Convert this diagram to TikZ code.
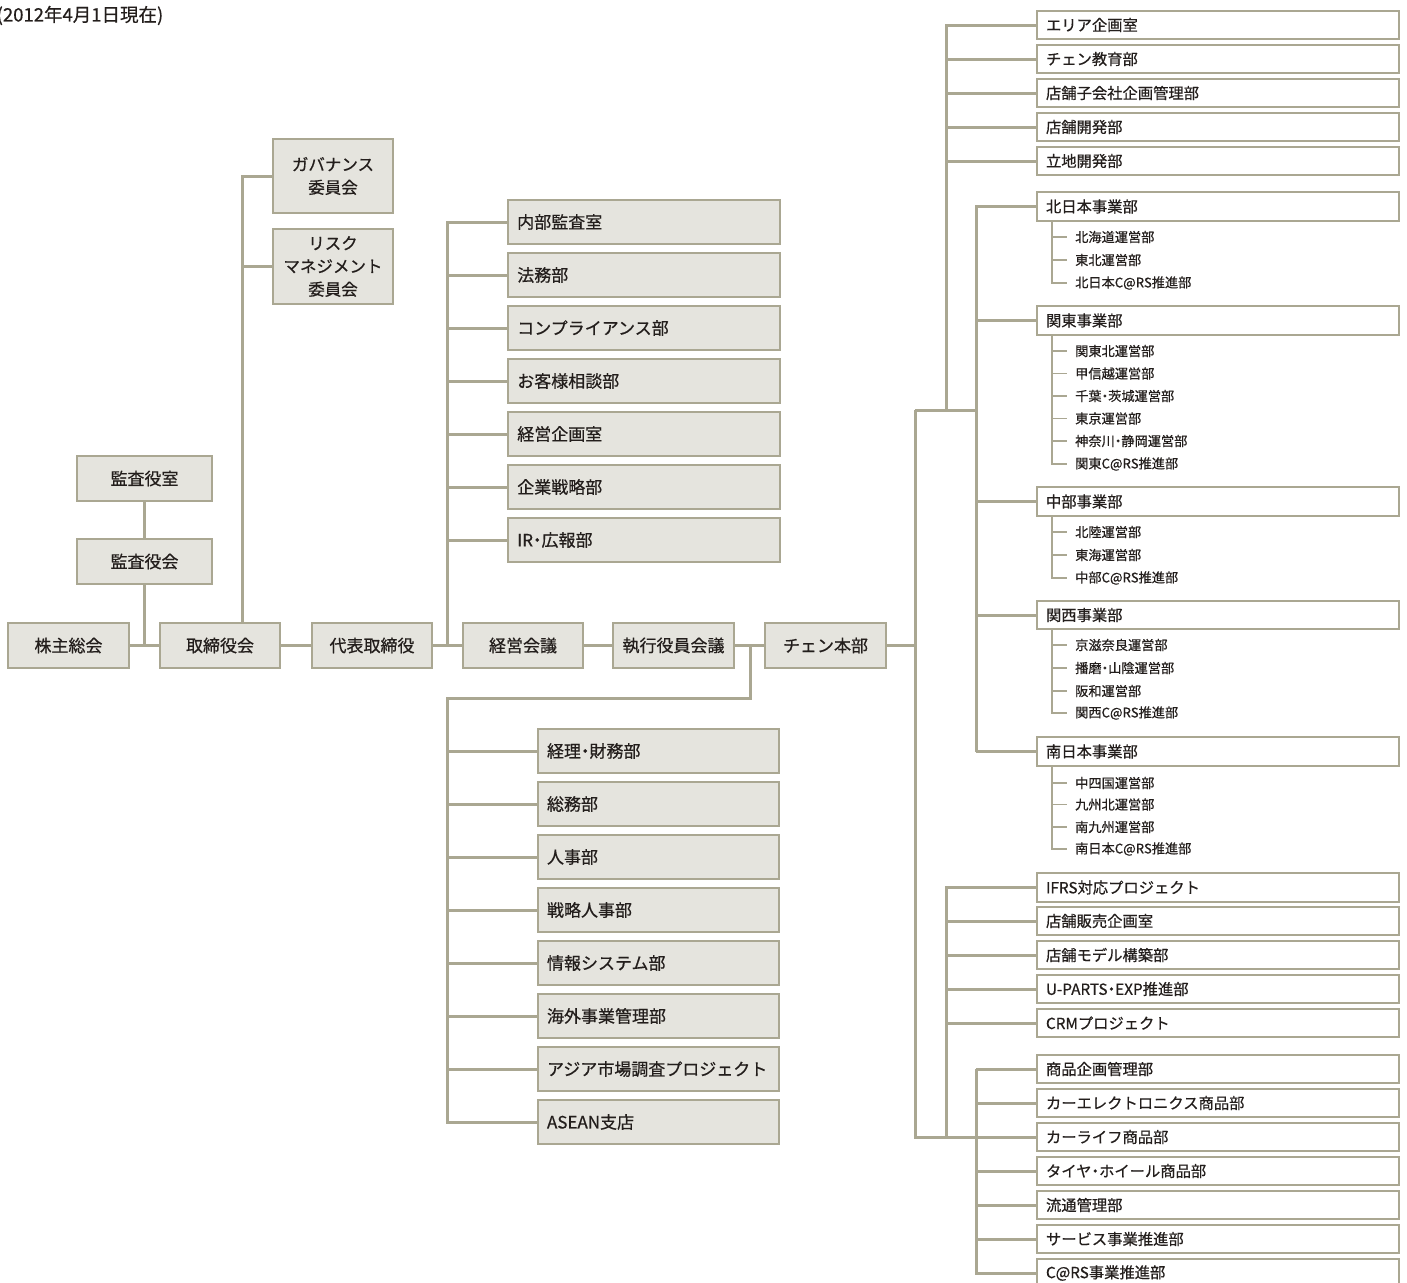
\documentclass[tikz,border=0pt]{standalone}
\usepackage{fontspec}
\setmainfont{Noto Sans CJK JP}[FakeBold=0.6]
\newcommand\md{{\addfontfeature{RawFeature=+palt}・}}
\definecolor{lc}{RGB}{170,167,146}
\definecolor{bf}{RGB}{229,228,222}
\definecolor{tc}{RGB}{35,30,28}
\begin{document}
\begin{tikzpicture}[x=1pt,y=-1pt,
  conn/.style={draw=lc, line width=3pt},
  subl/.style={draw=lc, line width=1.3pt, shorten >=8pt},
  cbox/.style={draw=lc, fill=bf, line width=1.8pt, inner sep=0pt, align=center, text=tc,
    font=\fontsize{17}{23}\selectfont},
  gbox/.style={draw=lc, fill=bf, line width=1.8pt, inner xsep=9pt, inner ysep=0pt,
    minimum height=44pt, align=left, text=tc, font=\fontsize{17}{21}\selectfont},
  wbox/.style={draw=lc, fill=white, line width=1.8pt, inner xsep=9pt, inner ysep=0pt,
    minimum height=28.5pt, text width=344pt, align=left, text=tc, font=\fontsize{15.3}{18}\selectfont},
  subn/.style={anchor=west, inner sep=0pt, text=tc, font=\fontsize{13.2}{15}\selectfont}
]
\useasboundingbox (0,0) rectangle (1407,1282);
\node[anchor=west, inner sep=0pt, text=tc, font=\fontsize{18.5}{21}\selectfont] (title) at (-3.5,15.5) {(2012年4月1日現在)};

% left
\node[cbox, minimum width=135pt, minimum height=45pt] (ka1) at (144.5,478.5) {監査役室};
\node[cbox, minimum width=135pt, minimum height=45pt] (ka2) at (144.5,561.5) {監査役会};
\node[cbox, minimum width=121pt, minimum height=45pt] (kabu) at (68.5,645.5) {株主総会};
\node[cbox, minimum width=120pt, minimum height=45pt] (tori) at (220,645.5) {取締役会};
\node[cbox, minimum width=120pt, minimum height=45pt] (dai) at (372,645.5) {代表取締役};
\node[cbox, minimum width=120pt, minimum height=45pt] (kei) at (523,645.5) {経営会議};
\node[cbox, minimum width=121pt, minimum height=45pt] (shi) at (673.5,645.5) {執行役員会議};
\node[cbox, minimum width=121pt, minimum height=45pt] (hon) at (825.5,645.5) {チェン本部};
\node[cbox, minimum width=120pt, minimum height=74pt, font=\fontsize{16.5}{23}\selectfont] (gov) at (333,176) {ガバナンス\\委員会};
\node[cbox, minimum width=120pt, minimum height=75pt, font=\fontsize{16.5}{23}\selectfont] (risk) at (333,266.5) {リスク\\マネジメント\\委員会};

% top middle group
\foreach \n/\y/\t in {g1/222/内部監査室, g2/275/法務部, g3/328/コンプライアンス部, g4/381/お客様相談部,
  g5/434/経営企画室, g6/487/企業戦略部, g7/540/IR\md 広報部}
  {\node[gbox, text width=253.5pt] (\n) at (644,\y) {\t};}
% bottom middle group
\foreach \n/\y/\t in {h1/751/経理\md 財務部, h2/804/総務部, h3/857/人事部, h4/910/戦略人事部,
  h5/963/情報システム部, h6/1016/海外事業管理部, h7/1069/アジア市場調査プロジェクト, h8/1122/ASEAN支店}
  {\node[gbox, text width=223pt] (\n) at (658.5,\y) {\t};}

% right column
\foreach \n/\y/\t in {r1/25/エリア企画室, r2/59/チェン教育部, r3/93/店舗子会社企画管理部, r4/127/店舗開発部, r5/161/立地開発部,
  d1/206.5/北日本事業部, d2/320.5/関東事業部, d3/501.5/中部事業部, d4/615/関西事業部, d5/751.5/南日本事業部,
  p1/887.5/IFRS対応プロジェクト, p2/921/店舗販売企画室, p3/955/店舗モデル構築部, p4/989/U-PARTS\md EXP推進部, p5/1023/CRMプロジェクト,
  m1/1069/商品企画管理部, m2/1103/カーエレクトロニクス商品部, m3/1137/カーライフ商品部, m4/1171/タイヤ\md ホイール商品部,
  m5/1205/流通管理部, m6/1239/サービス事業推進部, m7/1273/C@RS事業推進部}
  {\node[wbox] (\n) at (1218,\y) {\t};}

% sub items
\foreach \n/\y/\t in {a1/237/北海道運営部, a2/260/東北運営部, a3/283/北日本C@RS推進部,
  b1/351/関東北運営部, b2/373.5/甲信越運営部, b3/396/千葉\md 茨城運営部, b4/418.5/東京運営部, b5/441/神奈川\md 静岡運営部, b6/464/関東C@RS推進部,
  c1/532/北陸運営部, c2/555/東海運営部, c3/578/中部C@RS推進部,
  e1/645/京滋奈良運営部, e2/668/播磨\md 山陰運営部, e3/691/阪和運営部, e4/713/関西C@RS推進部,
  f1/783/中四国運営部, f2/804.5/九州北運営部, f3/827/南九州運営部, f4/849/南日本C@RS推進部}
  {\node[subn] (\n) at (1075,\y) {\t};}

% coordinates for trunks
\coordinate (sx) at (1052,0);
\coordinate (gx) at (242,0);
\coordinate (ax) at (447,0);
\coordinate (q) at (750,698);
\coordinate (tx) at (915,0);
\coordinate (ux) at (946,0);
\coordinate (vx) at (976,0);
\coordinate (t1) at (915,410);

% left connectors
\draw[conn] (ka1.south) -- (ka2.north);
\draw[conn] (ka2.south) -- (ka2.south |- kabu.east);
\draw[conn] (kabu.east) -- (tori.west);
\draw[conn] (tori.east) -- (dai.west);
\draw[conn] (dai.east) -- (kei.west);
\draw[conn] (kei.east) -- (shi.west);
\draw[conn] (shi.east) -- (hon.west);
\draw[conn] (gx |- tori.north) |- (gov.west);
\draw[conn] (gx |- risk.west) -- (risk.west);

% top group
\draw[conn] (ax |- dai.east) |- (g1.west);
\foreach \n in {g2,g3,g4,g5,g6,g7} {\draw[conn] (ax |- \n.west) -- (\n.west);}
% bottom group
\draw[conn] (q |- shi.east) -- (q) -- (ax |- q) |- (h8.west);
\foreach \n in {h1,h2,h3,h4,h5,h6,h7} {\draw[conn] (ax |- \n.west) -- (\n.west);}

% right trunk
\draw[conn] (hon.east) -- (tx |- hon.east);
\draw[conn] (t1) -- (tx |- m3.west) -- (m3.west);
\draw[conn] (t1) -- (vx |- t1);
\draw[conn] (ux |- t1) |- (r1.west);
\foreach \n in {r2,r3,r4,r5} {\draw[conn] (ux |- \n.west) -- (\n.west);}
\draw[conn] (vx |- d5.west) |- (d1.west);
\foreach \n in {d2,d3,d4,d5} {\draw[conn] (vx |- \n.west) -- (\n.west);}
\draw[conn] (ux |- m3.west) |- (p1.west);
\foreach \n in {p2,p3,p4,p5} {\draw[conn] (ux |- \n.west) -- (\n.west);}
\draw[conn] (vx |- m1.west) -- (vx |- m7.west) -- (m7.west);
\draw[conn] (vx |- m1.west) -- (m1.west);
\foreach \n in {m2,m4,m5,m6} {\draw[conn] (vx |- \n.west) -- (\n.west);}

% sub trees
\draw[subl] (sx |- d1.south) |- (a3.west);
\foreach \n in {a1,a2} {\draw[subl] (sx |- \n.west) -- (\n.west);}
\draw[subl] (sx |- d2.south) |- (b6.west);
\foreach \n in {b1,b2,b3,b4,b5} {\draw[subl] (sx |- \n.west) -- (\n.west);}
\draw[subl] (sx |- d3.south) |- (c3.west);
\foreach \n in {c1,c2} {\draw[subl] (sx |- \n.west) -- (\n.west);}
\draw[subl] (sx |- d4.south) |- (e4.west);
\foreach \n in {e1,e2,e3} {\draw[subl] (sx |- \n.west) -- (\n.west);}
\draw[subl] (sx |- d5.south) |- (f4.west);
\foreach \n in {f1,f2,f3} {\draw[subl] (sx |- \n.west) -- (\n.west);}
\end{tikzpicture}
\end{document}
